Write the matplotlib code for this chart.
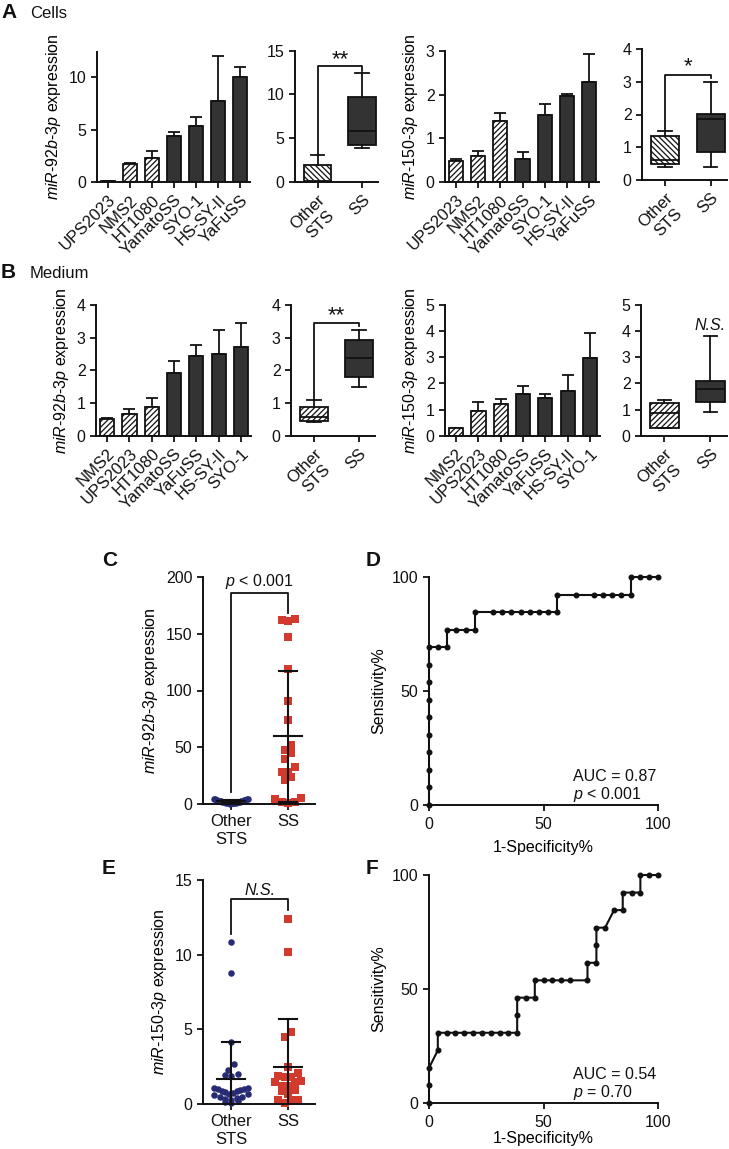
import numpy as np
import matplotlib
matplotlib.use("Agg")
import matplotlib.pyplot as plt

plt.rcParams.update({
    "font.family": ["Liberation Sans", "DejaVu Sans"],
    "font.size": 11.5,
    "mathtext.fontset": "custom",
    "mathtext.rm": "Liberation Sans",
    "mathtext.it": "Liberation Sans:italic",
    "hatch.linewidth": 0.9,
    "axes.linewidth": 1.4,
})

W, H = 729, 1149
INK, DARK, NAVY, RED = "#111111", "#333333", "#262b73", "#d23a2e"

# ---------------- data ----------------
# A: cell lines (Cells)
a_lines = ["UPS2023", "NMS2", "HT1080", "YamatoSS", "SYO-1", "HS-SY-II", "YaFuSS"]
a92_mean = [0.05, 1.75, 2.3, 4.35, 5.3, 7.7, 10.0]
a92_sd = [0.02, 0.1, 0.7, 0.45, 0.9, 4.3, 1.0]
a150_mean = [0.47, 0.6, 1.4, 0.53, 1.53, 1.97, 2.3]
a150_sd = [0.05, 0.1, 0.17, 0.15, 0.25, 0.05, 0.62]
# B: culture medium
b_lines = ["NMS2", "UPS2023", "HT1080", "YamatoSS", "YaFuSS", "HS-SY-II", "SYO-1"]
b92_mean = [0.52, 0.65, 0.88, 1.92, 2.45, 2.5, 2.7]
b92_sd = [0.03, 0.17, 0.27, 0.36, 0.33, 0.75, 0.75]
b150_mean = [0.3, 0.95, 1.2, 1.6, 1.45, 1.7, 2.97]
b150_sd = [0.0, 0.35, 0.2, 0.32, 0.15, 0.62, 0.96]
n_other_lines = 3

groups = ["Other\nSTS", "SS"]
# box stats: (whislo, q1, med, q3, whishi) for Other STS, SS
a92_box = [(0.02, 0.05, 0.1, 1.95, 3.1), (3.9, 4.2, 5.8, 9.7, 12.4)]
a150_box = [(0.41, 0.49, 0.61, 1.35, 1.5), (0.41, 0.84, 1.86, 2.02, 3.0)]
b92_box = [(0.43, 0.46, 0.56, 0.87, 1.09), (1.49, 1.81, 2.39, 2.93, 3.24)]
b150_box = [(0.28, 0.28, 0.87, 1.24, 1.36), (0.92, 1.3, 1.77, 2.09, 3.81)]

# C / E: serum levels
c_other = [4.8, 4.5, 4.2, 4.0, 3.8, 3.5, 3.3, 3.0, 2.8, 2.6, 2.5, 2.3, 2.2,
           2.0, 1.9, 1.8, 1.6, 1.5, 1.3, 1.2, 1.0, 0.9, 0.8, 0.6, 0.5, 0.3]
c_ss = [163, 161, 162, 147, 119, 91, 74, 52, 45, 48, 40, 33, 28, 28, 24, 21,
        5, 4, 2, 1.5, 0.5]
e_other = [10.85, 8.8, 4.15, 2.7, 2.3, 2.0, 1.95, 1.85, 1.1, 1.05, 1.0, 1.0,
           0.95, 0.9, 0.85, 0.8, 0.75, 0.7, 0.65, 0.6, 0.5, 0.45, 0.4, 0.35,
           0.3, 0.2, 0.15, 0.1]
e_ss = [12.37, 10.2, 4.8, 4.46, 2.5, 2.05, 1.87, 1.83, 1.83, 1.5, 1.5, 1.54,
        1.2, 1.2, 0.67, 0.94, 0.9, 0.27, 0.27, 0.27, 0.09]

# D / F: ROC curves (percent)
d_fpr = [0, 0, 0, 0, 0, 0, 0, 0, 0, 0, 4, 8, 8, 12, 16, 20, 20, 28, 32, 36, 40,
         44, 48, 52, 56, 56, 64, 72, 76, 80, 84, 88, 88, 92, 96, 100]
d_sens = [0, 7.7, 15.4, 23.1, 30.8, 38.5, 46.2, 53.8, 61.5, 69.2, 69.2, 69.2,
          76.9, 76.9, 76.9, 76.9, 84.6, 84.6, 84.6, 84.6, 84.6, 84.6, 84.6,
          84.6, 84.6, 92.3, 92.3, 92.3, 92.3, 92.3, 92.3, 92.3, 100, 100, 100, 100]
f_fpr = [0, 0, 0, 3.85, 3.85, 7.7, 11.5, 15.4, 19.2, 23.1, 26.9, 30.8, 34.6,
         38.5, 38.5, 38.5, 42.3, 46.2, 46.2, 50, 53.8, 57.7, 61.5, 69.2, 69.2,
         73.1, 73.1, 73.1, 76.9, 80.8, 84.6, 84.6, 88.5, 92.3, 92.3, 96.2, 100]
f_sens = [0, 7.7, 15.4, 23.1, 30.8, 30.8, 30.8, 30.8, 30.8, 30.8, 30.8, 30.8,
          30.8, 30.8, 38.5, 46.2, 46.2, 46.2, 53.8, 53.8, 53.8, 53.8, 53.8,
          53.8, 61.5, 61.5, 69.2, 76.9, 76.9, 84.6, 84.6, 92.3, 92.3, 92.3,
          100, 100, 100]

fig = plt.figure(figsize=(W / 100, H / 100), dpi=100)
fig.patch.set_facecolor("white")


def px_axes(x0, x1, y0, y1):
    ax = fig.add_axes([x0 / W, 1 - y1 / H, (x1 - x0) / W, (y1 - y0) / H])
    for s in ("top", "right"):
        ax.spines[s].set_visible(False)
    for s in ("left", "bottom"):
        ax.spines[s].set_color(INK)
    ax.tick_params(direction="out", length=4.5, width=1.3, colors=INK, labelsize=11.5, pad=3)
    return ax


def mir(name):
    p = name.split("-")
    return "$\\it{" + p[0] + "}$-$\\it{" + p[1] + "}$-$\\it{" + p[2] + "}$ expression"


def bar_panel(rect, names, mean, sd, ymax, ticks, ylabel):
    ax = px_axes(*rect)
    x = np.arange(len(names))
    bars = ax.bar(x, mean, width=0.64, color=DARK, edgecolor=INK, linewidth=1.3, zorder=2)
    for i, b in enumerate(bars):
        if i < n_other_lines:
            b.set_facecolor("white")
            b.set_hatch("//////")
    ax.errorbar(x, mean, yerr=[np.zeros(len(x)), sd], fmt="none", ecolor=INK,
                elinewidth=1.3, capsize=4, capthick=1.3, zorder=1)
    ax.set_xlim(-0.5, len(names) - 0.55)
    ax.set_ylim(0, ymax)
    ax.set_yticks(ticks)
    ax.set_xticks(x)
    ax.set_xticklabels(names, rotation=45, ha="right", rotation_mode="anchor", fontsize=12)
    ax.set_ylabel(ylabel, fontsize=11.5, labelpad=4)
    return ax


def box_panel(rect, stats, ymax, ticks, hatch):
    ax = px_axes(*rect)
    bs = [dict(whislo=s[0], q1=s[1], med=s[2], q3=s[3], whishi=s[4], label=g)
          for s, g in zip(stats, groups)]
    lp = dict(color=INK, linewidth=1.3)
    art = ax.bxp(bs, positions=[0, 1], widths=0.62, patch_artist=True, showfliers=False,
                 capwidths=0.3, boxprops=dict(edgecolor=INK, linewidth=1.3),
                 medianprops=lp, whiskerprops=lp, capprops=lp)
    art["boxes"][0].set_facecolor("white")
    art["boxes"][0].set_hatch(hatch)
    art["boxes"][1].set_facecolor(DARK)
    ax.set_xlim(-0.51, 1.36)
    ax.set_ylim(0, ymax)
    ax.set_yticks(ticks)
    ax.set_xticks([0, 1])
    ax.set_xticklabels(groups, rotation=45, ha="right", rotation_mode="anchor",
                       multialignment="center", fontsize=12)
    return ax


def bracket(ax, y_left, y_top, y_right, label, y_text, italic=False):
    ax.plot([0, 0, 1, 1], [y_left, y_top, y_top, y_right], color=INK, lw=1.3,
            clip_on=False, zorder=4)
    stars = "*" in label
    ax.text(0.5, y_text, label, ha="center", va="center", fontsize=16 if stars else 11.5,
            style="italic" if italic else "normal", color=INK)


def spread(ax, vals, pos, marker_px, half_px):
    # rows of nearly equal values are laid side by side, lowest in the middle
    y0, y1 = ax.get_ylim()
    x0, x1 = ax.get_xlim()
    ppu_y = ax.bbox.height / (y1 - y0)
    ppu_x = ax.bbox.width / (x1 - x0)
    vals = np.asarray(vals, float)
    order = np.argsort(-vals)
    xs = np.full(len(vals), float(pos))
    rows, row = [], [order[0]]
    for i in order[1:]:
        if (vals[row[0]] - vals[i]) * ppu_y < marker_px:
            row.append(i)
        else:
            rows.append(row)
            row = [i]
    rows.append(row)
    for r in rows:
        k = len(r)
        if k < 2:
            continue
        step = min(marker_px, 2 * half_px / (k - 1))
        r = sorted(r, key=lambda j: vals[j])
        slots = (np.arange(k) - (k - 1) / 2) * step
        slots = slots[np.argsort(np.abs(slots), kind="stable")]
        xs[r] = pos + slots / ppu_x
    return xs


def scatter_panel(rect, other, ss, ymax, ticks, ylabel):
    ax = px_axes(*rect)
    ax.set_xlim(-0.49, 1.47)
    ax.set_ylim(0, ymax)
    ax.set_yticks(ticks)
    ax.set_xticks([0, 1])
    ax.set_xticklabels(groups, multialignment="center", fontsize=12)
    for pos, v, c, m, s in ((0, other, NAVY, "o", 22), (1, ss, RED, "s", 26)):
        xs = spread(ax, v, pos, 6.5, 17)
        ax.scatter(xs, v, s=s, marker=m, color=c, linewidths=0, zorder=2, clip_on=False)
        mu, sd = np.mean(v), np.std(v, ddof=1)
        ax.plot([pos - 0.245, pos + 0.245], [mu, mu], color=INK, lw=1.5, zorder=3)
        ax.plot([pos, pos], [mu - sd, mu + sd], color=INK, lw=1.5, zorder=3)
        ax.plot([pos - 0.16, pos + 0.16], [mu + sd, mu + sd], color=INK, lw=1.5, zorder=3)
        ax.plot([pos - 0.16, pos + 0.16], [mu - sd, mu - sd], color=INK, lw=1.5, zorder=3)
    ax.set_ylabel(ylabel, fontsize=11.5, labelpad=4)
    return ax


def roc_panel(rect, fpr, sens, auc, ptxt, xpad):
    ax = px_axes(*rect)
    ax.plot(fpr, sens, color=INK, lw=1.5, marker="o", ms=3.3, clip_on=False, zorder=3)
    ax.set_xlim(0, 100)
    ax.set_ylim(0, 100)
    ax.set_xticks([0, 50, 100])
    ax.set_yticks([0, 50, 100])
    ax.tick_params(axis="x", pad=4)
    ax.set_xlabel("1-Specificity%", fontsize=11.5, labelpad=xpad)
    ax.set_ylabel("Sensitivity%", fontsize=11.5, labelpad=4)
    ax.text(63, 12.6, auc, fontsize=11.5, va="center", color=INK)
    ax.text(63, 4.6, ptxt, fontsize=11.5, va="center", color=INK)
    return ax


# ---------------- A: cells ----------------
ax = bar_panel((97, 250, 52, 182), a_lines, a92_mean, a92_sd, 12.4, [0, 5, 10], mir("miR-92b-3p"))
ax = box_panel((295, 378, 50.7, 182), a92_box, 15, [0, 5, 10, 15], "\\\\\\\\\\\\")
bracket(ax, 3.1, 13.2, 12.7, "**", 14.0)
ax = bar_panel((445, 599, 51, 182), a_lines, a150_mean, a150_sd, 3, [0, 1, 2, 3], mir("miR-150-3p"))
ax = box_panel((642, 727, 49, 180), a150_box, 4, [0, 1, 2, 3, 4], "\\\\\\\\\\\\")
bracket(ax, 1.5, 3.2, 3.1, "*", 3.45)

# ---------------- B: medium ----------------
ax = bar_panel((96, 251, 305, 435.7), b_lines, b92_mean, b92_sd, 4, [0, 1, 2, 3, 4], mir("miR-92b-3p"))
ax = box_panel((291, 375, 305, 435.7), b92_box, 4, [0, 1, 2, 3, 4], "//////")
bracket(ax, 1.09, 3.45, 3.37, "**", 3.66)
ax = bar_panel((445, 600, 305, 435.7), b_lines, b150_mean, b150_sd, 5, [0, 1, 2, 3, 4, 5], mir("miR-150-3p"))
ax = box_panel((641, 727, 305, 435.7), b150_box, 5, [0, 1, 2, 3, 4, 5], "//////")
ax.text(1, 4.23, "N.S.", ha="center", va="center", style="italic", fontsize=11.5, color=INK)

# ---------------- C / E: scatter ----------------
ax = scatter_panel((203, 315, 577, 804), c_other, c_ss, 200, [0, 50, 100, 150, 200], mir("miR-92b-3p"))
bracket(ax, 11, 185.5, 168, "$p$ < 0.001", 196)
ax = scatter_panel((203, 315, 880, 1104), e_other, e_ss, 15, [0, 5, 10, 15], mir("miR-150-3p"))
bracket(ax, 11.4, 13.7, 13.0, "N.S.", 14.3, italic=True)

# ---------------- D / F: ROC ----------------
roc_panel((429, 658, 577, 805), d_fpr, d_sens, "AUC = 0.87", "$p$ < 0.001", 6)
roc_panel((429, 658, 875, 1103), f_fpr, f_sens, "AUC = 0.54", "$p$ = 0.70", 0.5)

# ---------------- panel letters ----------------
def letter(x, y, s, sub=None):
    fig.text(x / W, 1 - y / H, s, fontsize=15, fontweight="bold", va="center", ha="left", color=INK)
    if sub:
        fig.text((x + 29) / W, 1 - (y + 1) / H, sub, fontsize=12, va="center", ha="left", color=INK)

letter(1, 13, "A", "Cells")
letter(1, 273, "B", "Medium")
letter(102, 561, "C")
letter(366, 561, "D")
letter(102, 868, "E")
letter(366, 868, "F")

fig.savefig("out.png", dpi=100, facecolor="white")
